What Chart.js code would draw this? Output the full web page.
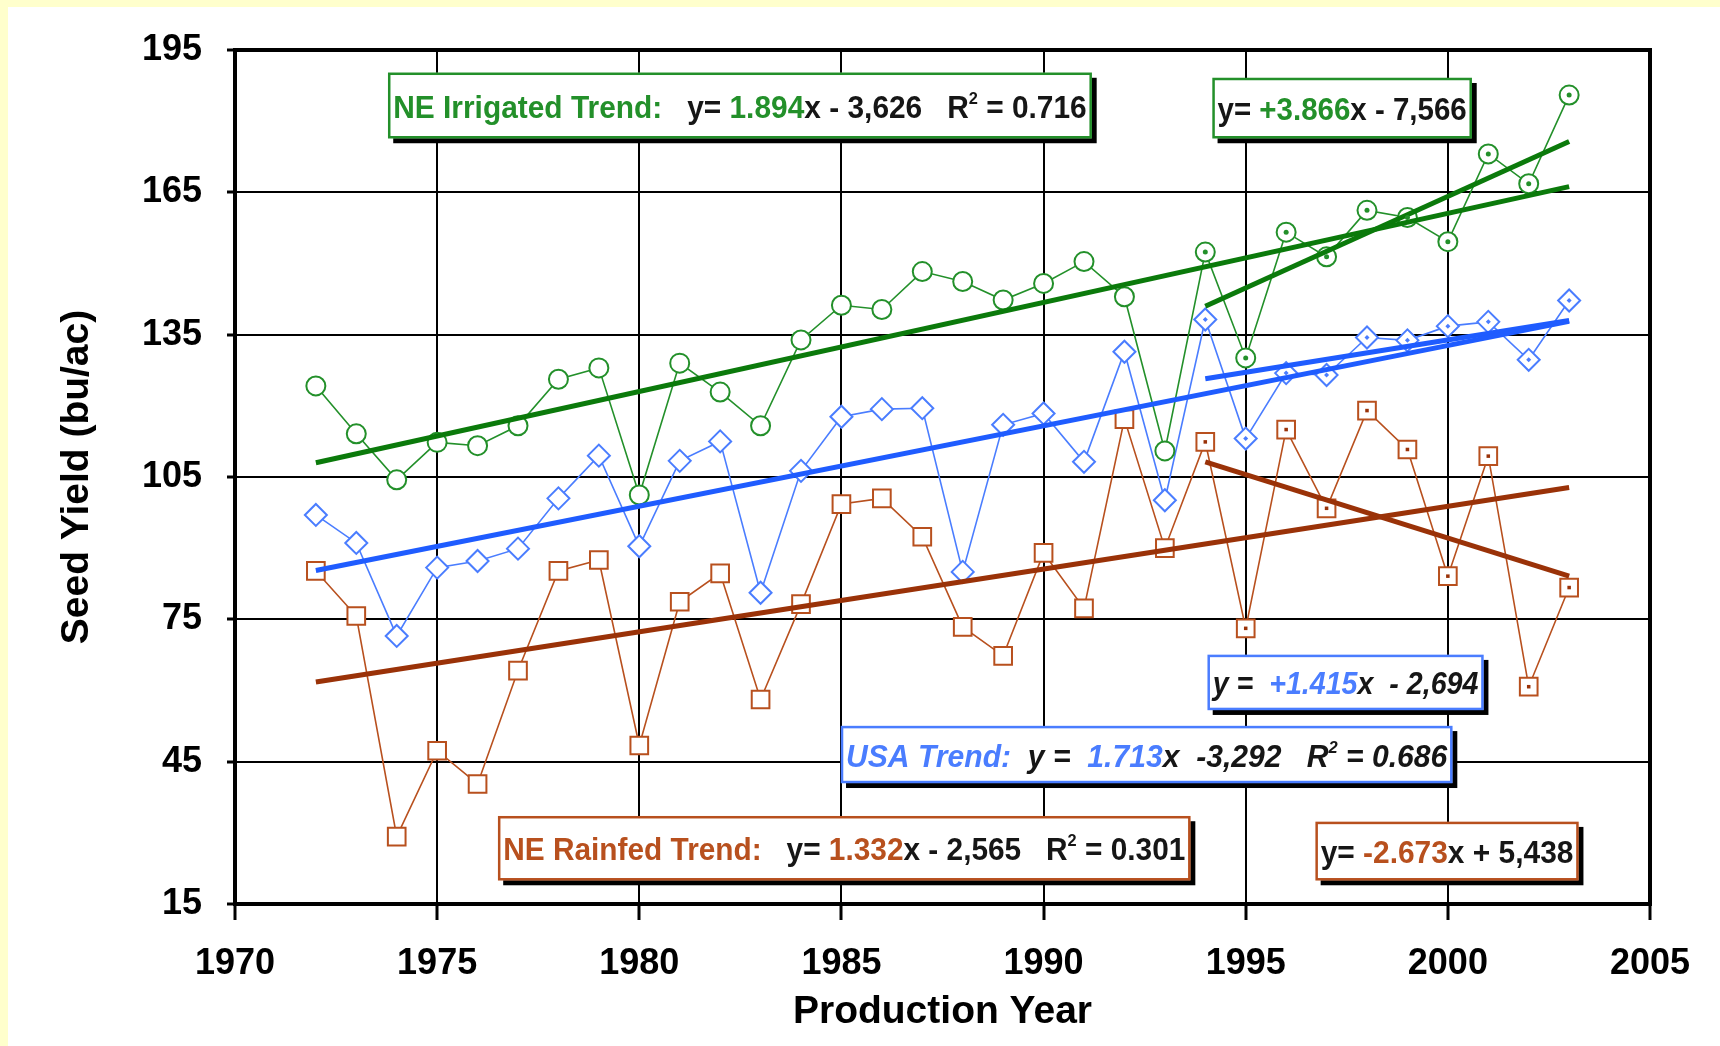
<!DOCTYPE html>
<html>
<head>
<meta charset="utf-8">
<title>Seed Yield</title>
<script src="https://cdn.jsdelivr.net/npm/chart.js@4.4.0/dist/chart.umd.min.js"></script>
<style>
  html, body { margin: 0; padding: 0; background: #fff; }
  #wrap { width: 1720px; height: 1046px; }
</style>
</head>
<body>
<div id="wrap"><canvas id="chart" width="1720" height="1046"></canvas></div>
<script>
// production years and yields (bu/ac)
const years = [1972, 1973, 1974, 1975, 1976, 1977, 1978, 1979, 1980, 1981, 1982,
  1983, 1984, 1985, 1986, 1987, 1988, 1989, 1990, 1991, 1992, 1993,
  1994, 1995, 1996, 1997, 1998, 1999, 2000, 2001, 2002, 2003];
const irrigated = [124.2, 114.1, 104.4, 112.3, 111.6, 115.8, 125.6, 128.0, 101.2, 129.0, 122.9,
  115.8, 133.9, 141.2, 140.3, 148.3, 146.2, 142.3, 145.8, 150.4, 143.0, 110.5,
  152.4, 130.1, 156.6, 151.4, 161.2, 159.7, 154.6, 173.1, 166.8, 185.5];
const usa = [97.0, 91.1, 71.5, 85.9, 87.3, 89.9, 100.5, 109.5, 90.4, 108.4, 112.5,
  80.6, 106.3, 117.7, 119.3, 119.5, 85.0, 116.0, 118.4, 108.2, 131.4, 100.1,
  138.2, 113.1, 126.9, 126.5, 134.4, 133.8, 136.8, 137.7, 129.7, 142.2];
const rainfed = [85.2, 75.7, 29.2, 47.3, 40.3, 64.2, 85.2, 87.5, 48.4, 78.7, 84.7,
  58.1, 78.2, 99.3, 100.5, 92.4, 73.4, 67.3, 89.0, 77.3, 117.2, 90.0,
  112.4, 73.1, 115.0, 98.4, 119.0, 110.8, 84.1, 109.4, 60.8, 81.7];

// trend line end points
const trendYears = [1972, 2003];
const recentYears = [1994, 2003];
const irrigatedTrend = [108.0, 166.2];
const irrigatedRecent = [141.0, 175.7];
const usaTrend = [85.3, 137.8];
const usaRecent = [125.7, 138.0];
const rainfedTrend = [61.8, 102.8];
const rainfedRecent = [108.2, 84.1];

const xTicks = [1970, 1975, 1980, 1985, 1990, 1995, 2000, 2005];
const yTicks = [15, 45, 75, 105, 135, 165, 195];

const GREEN = '#23902a', GREEN_DK = '#0b7a0b';
const BLUE = '#4a7dff', BLUE_DK = '#1f5cff';
const BROWN = '#b8501e', BROWN_DK = '#9a3208';
const INK = '#161616';
const FAMILY = "'Liberation Sans Narrow', 'Liberation Sans', Arial, sans-serif";

const pts = (xs, ys) => xs.map((v, i) => ({ x: v, y: ys[i] }));
const recentIdx = years.indexOf(1994);

// equation boxes, corners in data units
const eqBoxes = [
  { x1: 1973.79, x2: 1991.19, y1: 190.2, y2: 176.4, border: GREEN, italic: false,
    parts: [['NE Irrigated Trend:', GREEN], ['   y= ', INK], ['1.894', GREEN], ['x - 3,626   R', INK], ['2', INK, 'sup'], [' = 0.716', INK]] },
  { x1: 1994.18, x2: 2000.59, y1: 189.1, y2: 176.4, border: GREEN, italic: false,
    parts: [['y= ', INK], ['+3.866', GREEN], ['x - 7,566', INK]] },
  { x1: 1994.06, x2: 2000.88, y1: 67.5, y2: 55.9, border: BLUE, italic: true,
    parts: [['y =  ', INK], ['+1.415', BLUE], ['x  - 2,694', INK]] },
  { x1: 1984.99, x2: 2000.11, y1: 52.5, y2: 40.5, border: BLUE, italic: true,
    parts: [['USA Trend:', BLUE], ['  y =  ', INK], ['1.713', BLUE], ['x  -3,292   R', INK], ['2', INK, 'sup'], [' = 0.686', INK]] },
  { x1: 1976.51, x2: 1993.63, y1: 33.5, y2: 20.0, border: BROWN, italic: false,
    parts: [['NE Rainfed Trend:', BROWN], ['   y= ', INK], ['1.332', BROWN], ['x - 2,565   R', INK], ['2', INK, 'sup'], [' = 0.301', INK]] },
  { x1: 1996.73, x2: 2003.23, y1: 32.3, y2: 20.0, border: BROWN, italic: false,
    parts: [['y= ', INK], ['-2.673', BROWN], ['x + 5,438', INK]] }
];

const pagePlugin = {
  id: 'page',
  beforeDraw(chart) {
    const ctx = chart.ctx;
    ctx.save();
    ctx.fillStyle = '#ffffcc';
    ctx.fillRect(0, 0, chart.width, chart.height);
    ctx.fillStyle = '#ffffff';
    ctx.fillRect(8, 7, chart.width - 8, chart.height - 7);
    ctx.restore();
  }
};

const framePlugin = {
  id: 'frame',
  afterDatasetsDraw(chart) {
    const { ctx, chartArea: a, scales: { x, y } } = chart;
    ctx.save();
    ctx.strokeStyle = '#000';
    ctx.lineWidth = 4;
    ctx.strokeRect(a.left, a.top, a.right - a.left, a.bottom - a.top);

    eqBoxes.forEach(b => {
      const left = x.getPixelForValue(b.x1), right = x.getPixelForValue(b.x2);
      const top = y.getPixelForValue(b.y1), bottom = y.getPixelForValue(b.y2);
      const w = right - left, h = bottom - top;
      ctx.fillStyle = '#000';
      ctx.fillRect(left + 5, top + 5, w, h);
      ctx.fillStyle = '#fff';
      ctx.fillRect(left, top, w, h);
      ctx.strokeStyle = b.border;
      ctx.lineWidth = 2.5;
      ctx.strokeRect(left + 1, top + 1, w - 2, h - 2);

      const style = b.italic ? 'italic bold ' : 'bold ';
      const main = style + '31px ' + FAMILY;
      const sup = style + '17px ' + FAMILY;
      let total = 0;
      const widths = b.parts.map(p => {
        ctx.font = p[2] ? sup : main;
        const wd = ctx.measureText(p[0]).width;
        total += wd;
        return wd;
      });
      const pad = 5;
      const sx = (w - 2 * pad) / total;
      const base = top + h / 2 + 12;
      ctx.save();
      ctx.translate(left + pad, base);
      ctx.scale(sx, 1);
      ctx.textBaseline = 'alphabetic';
      let cx = 0;
      b.parts.forEach((p, i) => {
        ctx.font = p[2] ? sup : main;
        ctx.fillStyle = p[1];
        ctx.fillText(p[0], cx, p[2] ? -14 : 0);
        cx += widths[i];
      });
      ctx.restore();
    });
    ctx.restore();
  }
};

const seriesLine = (data, color, style, radius) => ({
  data, borderColor: color, borderWidth: 1.6, order: 2,
  pointStyle: style, pointRadius: radius, pointBorderWidth: 2,
  pointBorderColor: color, pointBackgroundColor: '#fff', tension: 0
});
const trendLine = (data, color) => ({
  data, borderColor: color, borderWidth: 5, pointRadius: 0, order: 1, tension: 0
});
const centreDots = (data, color, style) => ({
  data, showLine: false, pointStyle: style, pointRadius: 2.5, order: 0,
  pointBorderWidth: 0, pointBackgroundColor: color
});

new Chart(document.getElementById('chart'), {
  type: 'line',
  data: {
    datasets: [
      seriesLine(pts(years, irrigated), GREEN, 'circle', 9.5),
      seriesLine(pts(years, usa), BLUE, 'rectRot', 11),
      seriesLine(pts(years, rainfed), BROWN, 'rect', 12.5),
      trendLine(pts(trendYears, irrigatedTrend), GREEN_DK),
      trendLine(pts(recentYears, irrigatedRecent), GREEN_DK),
      trendLine(pts(trendYears, usaTrend), BLUE_DK),
      trendLine(pts(recentYears, usaRecent), BLUE_DK),
      trendLine(pts(trendYears, rainfedTrend), BROWN_DK),
      trendLine(pts(recentYears, rainfedRecent), BROWN_DK),
      centreDots(pts(years.slice(recentIdx), irrigated.slice(recentIdx)), GREEN, 'circle'),
      centreDots(pts(years.slice(recentIdx), usa.slice(recentIdx)), BLUE, 'rectRot'),
      centreDots(pts(years.slice(recentIdx), rainfed.slice(recentIdx)), BROWN_DK, 'rect')
    ]
  },
  options: {
    responsive: false,
    animation: false,
    devicePixelRatio: 1,
    layout: { padding: { top: 50, right: 70, left: 0, bottom: 0 } },
    plugins: { legend: { display: false }, tooltip: { enabled: false } },
    scales: {
      x: {
        type: 'linear', min: 1970, max: 2005,
        afterFit: s => { s.height = 142; },
        afterBuildTicks: s => { s.ticks = xTicks.map(v => ({ value: v })); },
        grid: { color: '#000', lineWidth: 2, tickLength: 16, tickWidth: 3, tickColor: '#000' },
        border: { color: '#000', width: 4 },
        ticks: { color: '#000', padding: 22, maxRotation: 0, font: { family: 'Liberation Sans', size: 36, weight: 'bold' }, callback: v => String(v) },
        title: { display: true, text: 'Production Year', color: '#000', padding: { top: 0, bottom: 10 },
          font: { family: 'Liberation Sans', size: 39, weight: 'bold' } }
      },
      y: {
        type: 'linear', min: 15, max: 195,
        afterFit: s => { s.width = 235; },
        afterBuildTicks: s => { s.ticks = yTicks.map(v => ({ value: v })); },
        grid: { color: '#000', lineWidth: 2, tickLength: 8, tickWidth: 3, tickColor: '#000' },
        border: { color: '#000', width: 4 },
        ticks: { color: '#000', padding: 25, font: { family: 'Liberation Sans', size: 36, weight: 'bold' }, callback: v => String(v) },
        title: { display: true, text: 'Seed Yield (bu/ac)', color: '#000', padding: { top: 54, bottom: 0 },
          font: { family: 'Liberation Sans', size: 39, weight: 'bold' } }
      }
    }
  },
  plugins: [pagePlugin, framePlugin]
});
</script>
</body>
</html>
